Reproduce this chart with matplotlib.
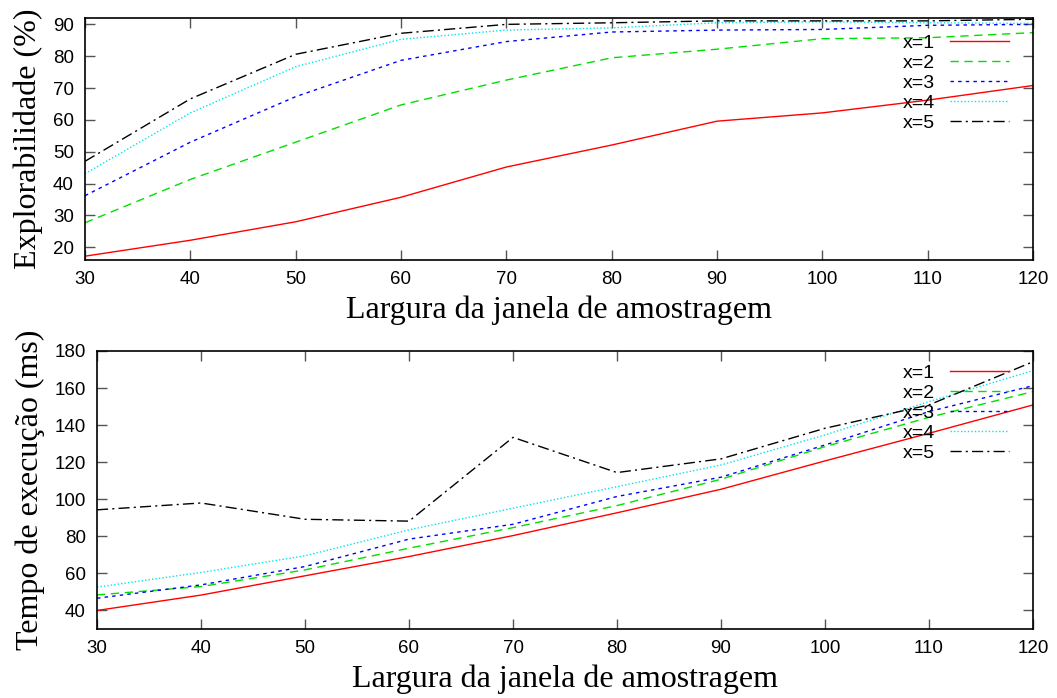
import matplotlib
matplotlib.use("Agg")
import matplotlib.pyplot as plt

largura = [30, 40, 50, 60, 70, 80, 90, 100, 110, 120]
series_labels = ["x=1", "x=2", "x=3", "x=4", "x=5"]

# Explorabilidade (%)
expl_x1 = [17.2, 22.2, 28.0, 35.7, 45.2, 52.1, 59.6, 62.2, 66.2, 70.8]
expl_x2 = [27.7, 41.3, 53.0, 64.7, 72.5, 79.5, 82.2, 85.5, 85.8, 87.4]
expl_x3 = [36.2, 53.0, 67.3, 78.7, 84.6, 87.6, 88.2, 88.4, 89.7, 90.0]
expl_x4 = [43.1, 62.2, 76.7, 85.3, 88.2, 88.9, 90.5, 90.8, 90.5, 90.3]
expl_x5 = [47.0, 66.6, 80.6, 87.2, 90.0, 90.5, 91.1, 91.1, 91.1, 91.6]

# Tempo de execucao (ms)
tempo_x1 = [40.0, 48.3, 58.7, 69.1, 80.4, 92.7, 105.4, 120.7, 135.6, 150.9]
tempo_x2 = [48.4, 52.9, 61.9, 73.6, 84.7, 96.6, 110.8, 128.4, 144.2, 158.1]
tempo_x3 = [46.6, 53.8, 63.7, 78.5, 86.5, 101.5, 111.9, 129.3, 147.3, 161.3]
tempo_x4 = [52.6, 60.5, 69.5, 83.5, 95.2, 106.8, 118.5, 134.7, 152.7, 169.4]
tempo_x5 = [94.3, 98.0, 89.2, 88.2, 133.4, 114.4, 121.8, 138.3, 150.9, 174.2]

colors = ["#ff0000", "#00e000", "#0000ff", "#00e5ee", "#000000"]
styles = ["-", (0, (6, 4)), (0, (2.5, 3)), (0, (1, 1.5)), (0, (8, 3, 1.5, 3))]

sans = ["Liberation Sans", "DejaVu Sans"]
serif = ["Liberation Serif", "DejaVu Serif"]

fig = plt.figure(figsize=(10.57, 6.98), dpi=100)
ax1 = fig.add_axes([85 / 1057, 1 - 260 / 698, 948 / 1057, 242 / 698])
ax2 = fig.add_axes([97 / 1057, 1 - 629 / 698, 936 / 1057, 278 / 698])


def draw(ax, data, ylim, yticks, ylabel, leg_y):
    for vals, lab, c, ls in zip(data, series_labels, colors, styles):
        ax.plot(largura, vals, color=c, linestyle=ls, linewidth=1.0, label=lab)
    ax.set_xlim(30, 120)
    ax.set_ylim(*ylim)
    ax.set_xticks(largura)
    ax.set_yticks(yticks)
    ax.tick_params(direction="in", length=7, width=1, top=True, right=True,
                   labelsize=13.5, pad=8, color="#555555")
    for lbl in ax.get_xticklabels() + ax.get_yticklabels():
        lbl.set_family(sans)
    for s in ax.spines.values():
        s.set_linewidth(1.2)
    ax.set_xlabel("Largura da janela de amostragem", family=serif, fontsize=23, labelpad=5)
    ax.set_ylabel(ylabel, family=serif, fontsize=23, labelpad=7)
    ax.legend(loc="upper right", bbox_to_anchor=(0.985, leg_y), frameon=False,
              markerfirst=False, handlelength=3.05, handletextpad=0.75,
              labelspacing=0.12, borderpad=0, prop={"family": sans, "size": 14})


draw(ax1, [expl_x1, expl_x2, expl_x3, expl_x4, expl_x5], (16, 92),
     [20, 30, 40, 50, 60, 70, 80, 90], "Explorabilidade (%)", 0.972)
draw(ax2, [tempo_x1, tempo_x2, tempo_x3, tempo_x4, tempo_x5], (30, 180),
     [40, 60, 80, 100, 120, 140, 160, 180], "Tempo de execução (ms)", 0.987)

fig.savefig("out.png", dpi=100)
